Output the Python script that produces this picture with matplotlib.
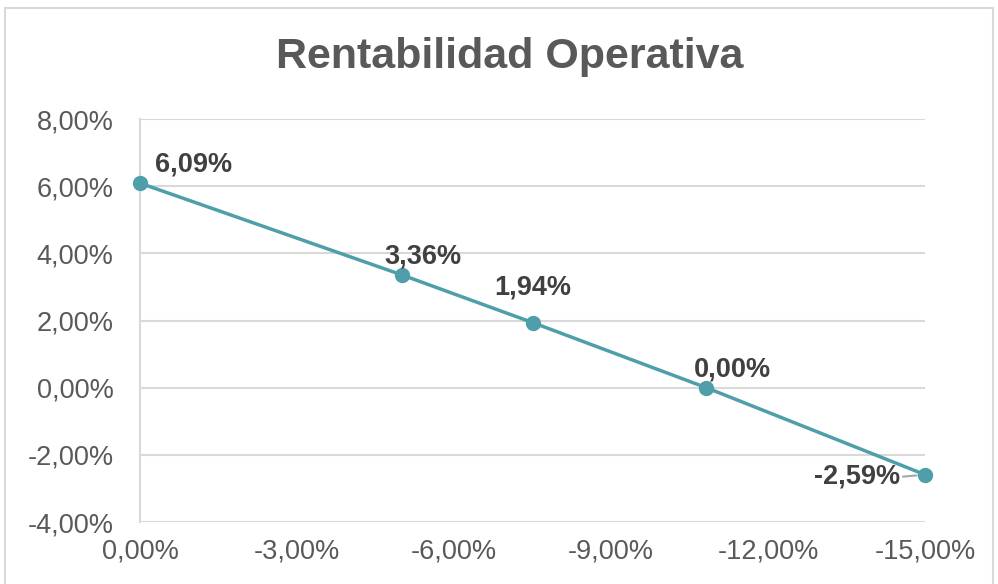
import matplotlib.pyplot as plt
from matplotlib.patches import Rectangle

# data (percent)
variacion = [0.0, -5.0, -7.5, -10.82, -15.0]
rentabilidad = [6.09, 3.36, 1.94, 0.0, -2.59]
etiquetas = ['6,09%', '3,36%', '1,94%', '0,00%', '-2,59%']
x_ticks = [0, -3, -6, -9, -12, -15]
y_ticks = [8, 6, 4, 2, 0, -2, -4]

def pct(v):
    return ('%.2f%%' % v).replace('.', ',')

plt.rcParams['font.family'] = ['Liberation Sans', 'DejaVu Sans']

fig = plt.figure(figsize=(9.98, 5.84), dpi=100)
ax = fig.add_axes([140/998, 1 - 522/584, 785/998, 403/584])

# outer chart frame
fig.patches.append(Rectangle((5/998, -0.05), 988/998, 1.05 - 8/584,
                             transform=fig.transFigure, fill=False,
                             edgecolor='#D9D9D9', linewidth=1.5))

teal = '#4E9FA9'
ax.plot(variacion, rentabilidad, color=teal, linewidth=2.5,
        marker='o', markersize=10, zorder=3, clip_on=False)

# data labels (offsets in pixels)
offsets = [(15, 19, 'left'), (21, 18, 'center'), (0, 35, 'center'),
           (26, 18, 'center'), (-25, -2, 'right')]
for x, y, lab, (dx, dy, ha) in zip(variacion, rentabilidad, etiquetas, offsets):
    ax.annotate(lab, (x, y), xytext=(dx, dy), textcoords='offset pixels',
                ha=ha, va='center', fontsize=19.5, fontweight='bold',
                color='#404040', zorder=4)
# little leader line for the last label
ax.annotate('', (variacion[-1], rentabilidad[-1]), xytext=(-22, -2),
            textcoords='offset pixels',
            arrowprops=dict(arrowstyle='-', color='#A6A6A6', lw=1.5,
                            shrinkA=0, shrinkB=6))

ax.set_xlim(0, -15)
ax.set_ylim(-4, 8)
ax.set_xticks(x_ticks)
ax.set_xticklabels([pct(v) for v in x_ticks])
ax.set_yticks(y_ticks)
ax.set_yticklabels([pct(v) for v in y_ticks])
ax.tick_params(length=0, labelsize=19.5, labelcolor='#595959')
ax.tick_params(axis='y', pad=19)
ax.tick_params(axis='x', pad=12)

ax.grid(axis='y', color='#D9D9D9', linewidth=1.5)
ax.set_axisbelow(True)
for s in ['top', 'right', 'bottom']:
    ax.spines[s].set_visible(False)
ax.spines['left'].set_color('#D9D9D9')
ax.spines['left'].set_linewidth(1.5)

fig.text(510/998, 1 - 57/584, 'Rentabilidad Operativa', ha='center',
         va='center', fontsize=31, fontweight='bold', color='#595959')

fig.savefig('out.png', dpi=100)
